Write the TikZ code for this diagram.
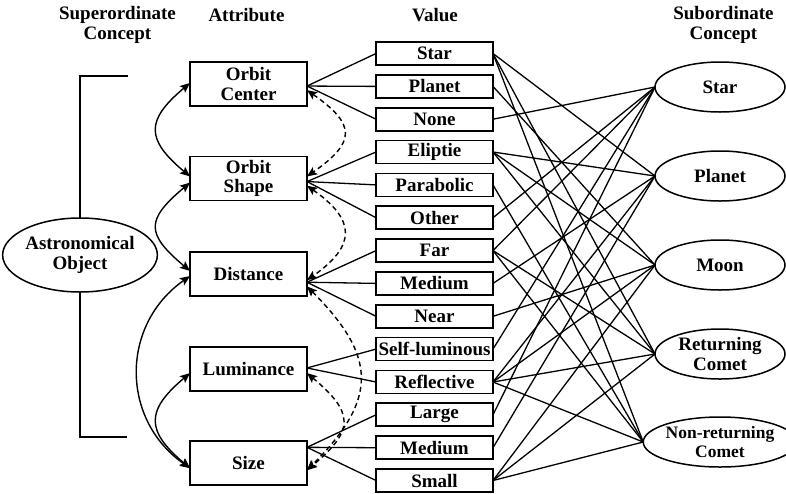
\documentclass[tikz,border=0pt]{standalone}
\usepackage{fontspec}
\setmainfont{Liberation Serif}
\usetikzlibrary{arrows.meta,shapes.geometric,calc}

\begin{document}
\begin{tikzpicture}[x=1pt,y=1pt,
  every node/.style={font=\bfseries\fontsize{19}{19.5}\selectfont, align=center,
                     inner sep=0pt, outer sep=0pt},
  attr/.style={draw, line width=1.7pt, minimum width=117pt, minimum height=44pt},
  val/.style={draw, line width=1.7pt, minimum width=117pt, minimum height=23pt},
  sub/.style={draw, ellipse, line width=1.5pt, minimum width=130pt, minimum height=50pt},
  link/.style={line width=1.3pt},
  tip/.tip={Stealth[length=10pt,width=8.5pt,inset=2pt]},
  rel/.style={line width=1.4pt, tip-tip},
  drel/.style={rel, dash pattern=on 5pt off 3.5pt},
]
\useasboundingbox (0,0) rectangle (786,-493);

% column headings
\node (hsup) at (117.5,-25) {Superordinate\\Concept};
\node (hatt) at (246.5,-15) {Attribute};
\node (hval) at (435,-15) {Value};
\node (hsub) at (723.5,-25) {Subordinate\\Concept};

% superordinate concept and its bracket
\node[draw, ellipse, line width=1.5pt, minimum width=144pt, minimum height=74pt]
  (astro) at (80,-255) {Astronomical\\Object};
\coordinate (btop) at (128,-76);
\coordinate (bbot) at (127,-437);
\draw[line width=1.5pt] (btop) -- (btop -| astro.north) -- (astro.north);
\draw[line width=1.5pt] (astro.south) -- (bbot -| astro.south) -- (bbot);

% attributes
\node[attr] (oc) at (248.5,-84)    {Orbit\\Center};
\node[attr] (os) at (248.5,-178.5) {Orbit\\Shape};
\node[attr] (di) at (248.5,-274)   {Distance};
\node[attr] (lu) at (248.5,-369)   {Luminance};
\node[attr] (sz) at (248.5,-463)   {Size};

% values
\node[val] (v1)  at (434.5,-53.5)  {Star};
\node[val] (v2)  at (434.5,-86.4)  {Planet};
\node[val] (v3)  at (434.5,-119.2) {None};
\node[val] (v4)  at (434.5,-152)   {Eliptie};
\node[val] (v5)  at (434.5,-184.9) {Parabolic};
\node[val] (v6)  at (434.5,-217.7) {Other};
\node[val] (v7)  at (434.5,-250.6) {Far};
\node[val] (v8)  at (434.5,-283.4) {Medium};
\node[val] (v9)  at (434.5,-316.3) {Near};
\node[val] (v10) at (434.5,-349.1) {Self-luminous};
\node[val] (v11) at (434.5,-382)   {Reflective};
\node[val] (v12) at (434.5,-414.8) {Large};
\node[val] (v13) at (434.5,-447.7) {Medium};
\node[val] (v14) at (434.5,-480.5) {Small};

% subordinate concepts
\node[sub] (s1) at (720,-87)  {Star};
\node[sub] (s2) at (720,-176) {Planet};
\node[sub] (s3) at (720,-265) {Moon};
\node[sub] (s4) at (720,-354) {Returning\\Comet};
\node[sub, font=\bfseries\fontsize{17.5}{19}\selectfont] (s5) at (720,-442) {Non-returning\\Comet};

% values to their attribute
\foreach \v in {v1,v2,v3} \draw[link] (\v.west) -- (oc.358);
\foreach \v in {v4,v5,v6} \draw[link] (\v.west) -- (os.357);
\foreach \v in {v7,v8,v9} \draw[link] (\v.west) -- (di.352);
\foreach \v in {v10,v11} \draw[link] (\v.west) -- (lu.1);
\foreach \v in {v12,v13,v14} \draw[link] (\v.west) -- (sz.15);

% values to subordinate concepts
\foreach \v in {v3,v6,v7,v10,v12} \draw[link] (\v.east) -- (s1.west);
\foreach \v in {v1,v4,v8,v11,v13} \draw[link] (\v.east) -- (s2.west);
\foreach \v in {v2,v4,v9,v11,v14} \draw[link] (\v.east) -- (s3.west);
\foreach \v in {v1,v4,v7,v11,v14} \draw[link] (\v.east) -- (s4.west);
\foreach \v in {v1,v5,v7,v11,v14} \draw[link] (\v.east) -- (s5.west);

% relations between attributes (left, solid)
\draw[rel] (oc.179) .. controls +(220:58) and +(140:58) .. (os.178);
\draw[rel] (os.184) .. controls +(220:58) and +(140:58) .. (di.177);
\draw[rel] (di.182) .. controls +(215:85) and +(145:85) .. (sz.185);
\draw[rel] (lu.184) .. controls +(220:58) and +(140:58) .. (sz.185);

% relations between attributes (right, dashed)
\draw[drel] (oc.354) .. controls +(-35:60) and +(35:60) .. (os.2);
\draw[drel] (os.353) .. controls +(-35:60) and +(35:60) .. (di.354);
\draw[drel] (di.348) .. controls +(-45:100) and +(45:100) .. (sz.353);
\draw[drel] (lu.356) .. controls +(-40:62) and +(40:62) .. (sz.353);
\end{tikzpicture}
\end{document}
